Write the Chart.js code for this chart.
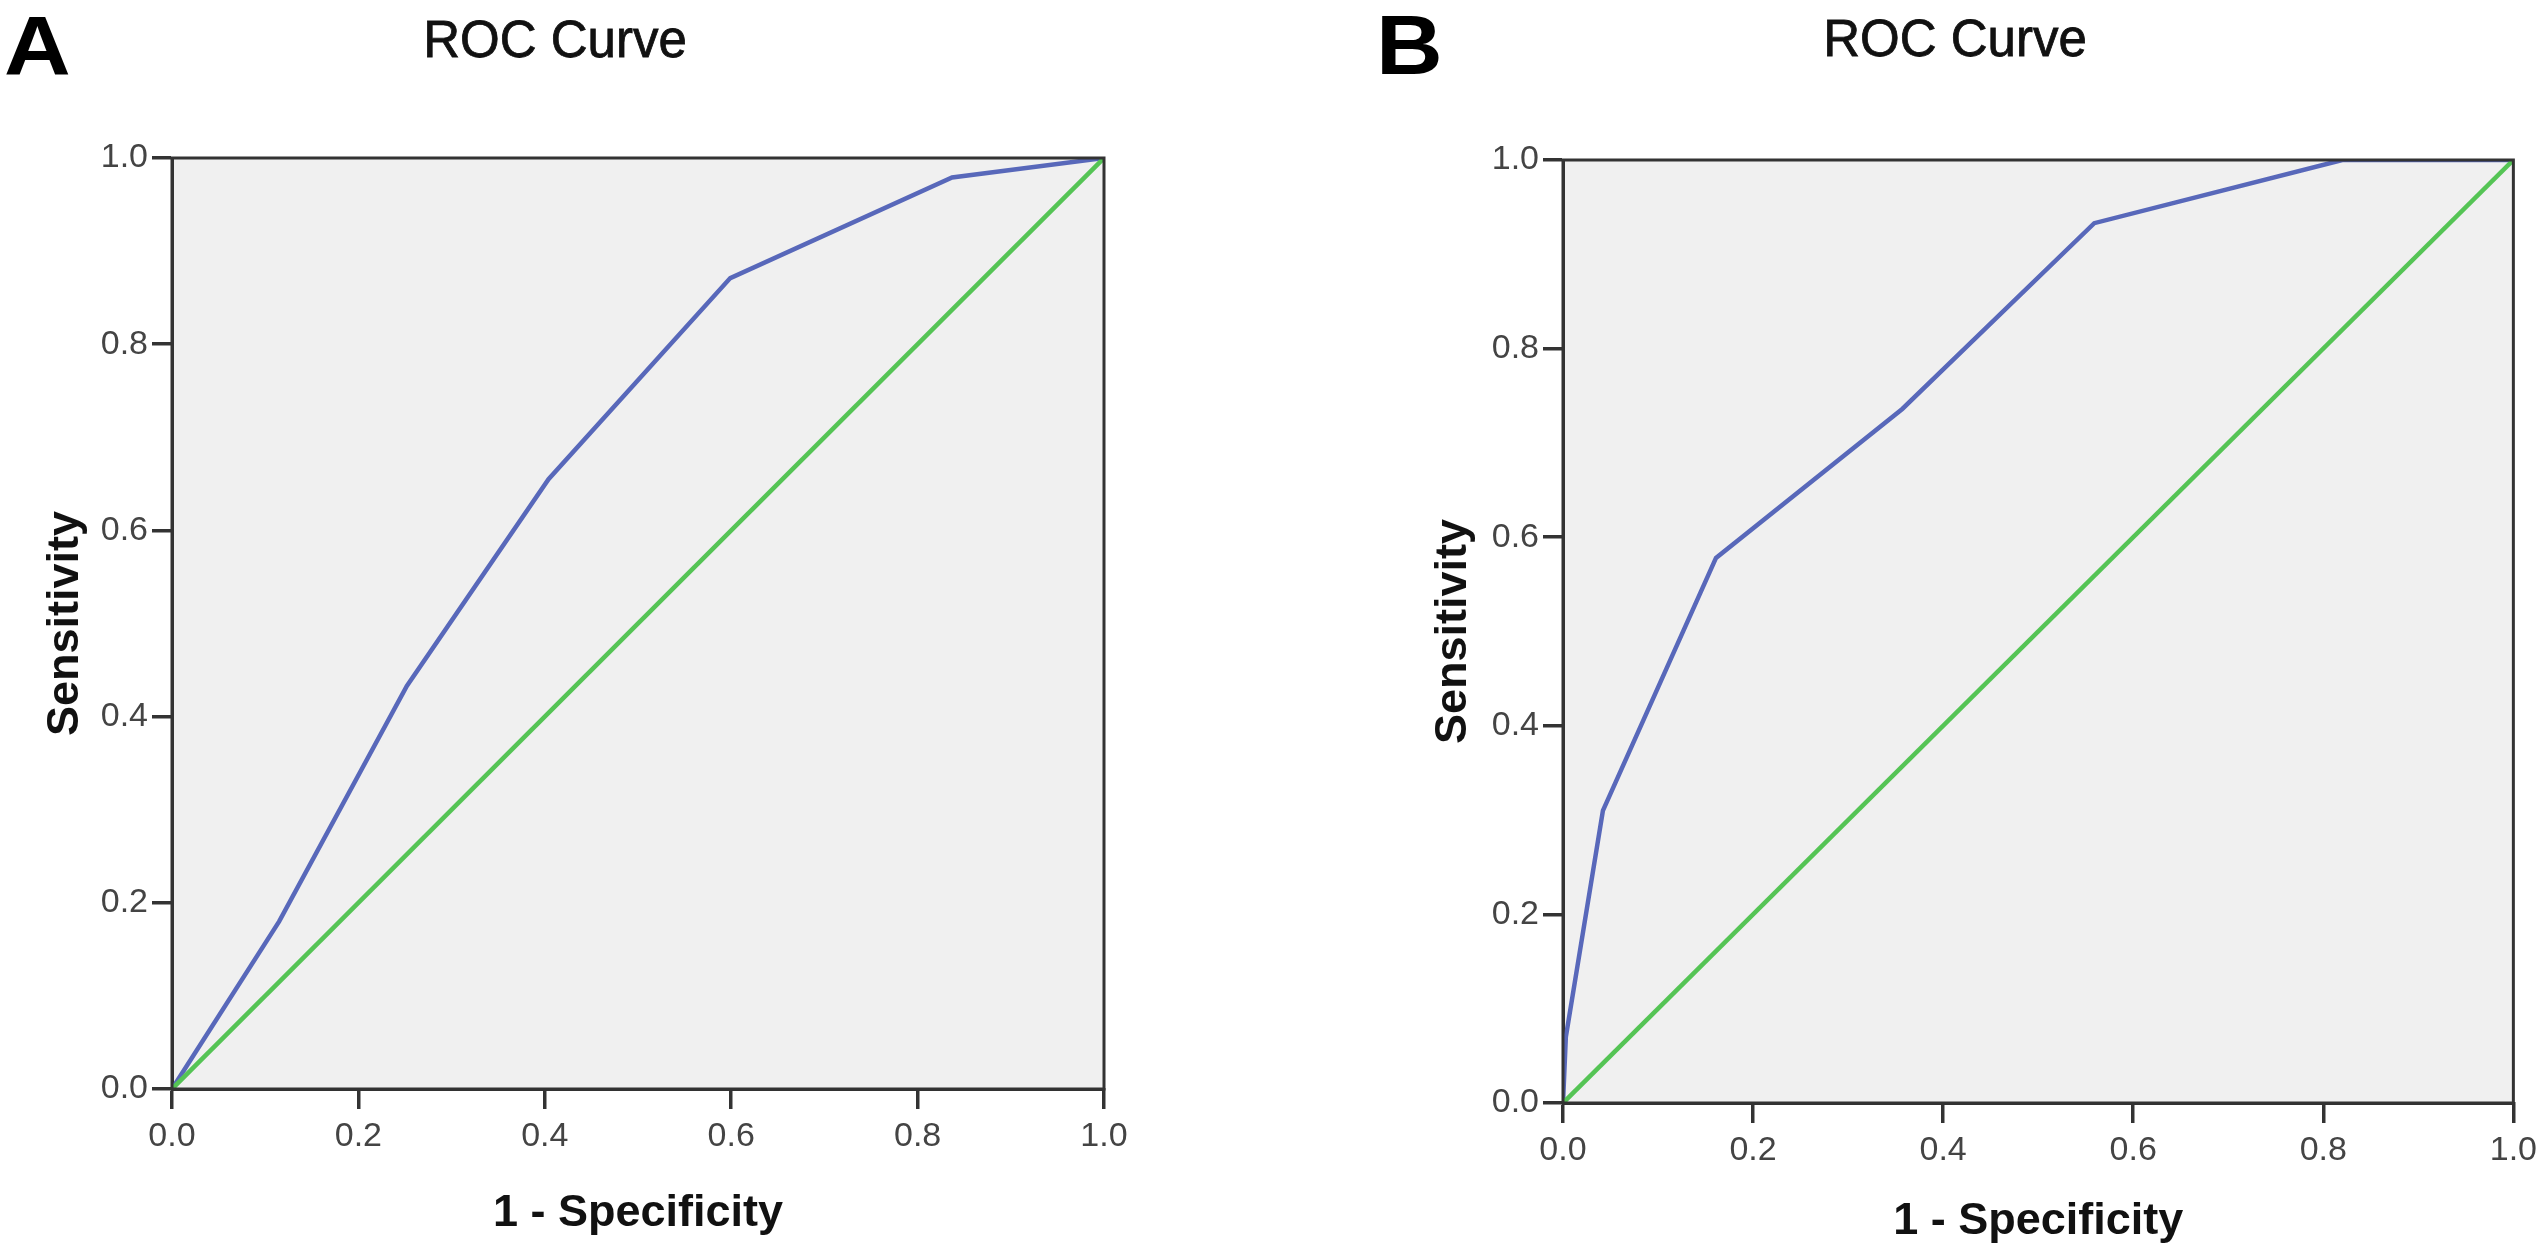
<!DOCTYPE html>
<html>
<head>
<meta charset="utf-8">
<title>ROC Curves</title>
<script src="https://cdn.jsdelivr.net/npm/chart.js@4.4.1/dist/chart.umd.min.js"></script>
<style>
    html, body { margin: 0; padding: 0; background: #ffffff; }
    #wrap { position: relative; width: 2548px; height: 1260px; overflow: hidden; }
    #wrap canvas { position: absolute; left: 0; top: 0; }
</style>
</head>
<body>
<div id="wrap">
    <canvas id="rocA" width="2548" height="1260"></canvas>
    <canvas id="rocB" width="2548" height="1260"></canvas>
</div>
<script>
// ROC curve points (1 - specificity, sensitivity)
const rocA_fpr = [0, 0.115, 0.252, 0.404, 0.599, 0.837, 1.0];
const rocA_tpr = [0, 0.180, 0.433, 0.655, 0.871, 0.979, 1.0];

const rocB_fpr = [0, 0.003, 0.042, 0.161, 0.357, 0.559, 0.820, 1.0];
const rocB_tpr = [0, 0.070, 0.310, 0.578, 0.736, 0.933, 1.000, 1.0];

// reference (chance) diagonal
const refLine = [0, 1];

const tickValues = [0, 0.2, 0.4, 0.6, 0.8, 1.0];
const chartTitle = 'ROC Curve';
const xTitle = '1 - Specificity';
const yTitle = 'Sensitivity';

const FONT = "'Liberation Sans', Arial, Helvetica, sans-serif";
const AXIS = '#333333';
const BLUE = '#5868BA';
const GREEN = '#55C455';

function toPoints(xs, ys) {
    return xs.map((x, i) => ({ x: x, y: ys[i] }));
}

// plot background + closed frame, plus panel letter and title
function panelPlugin(letter, letterX, letterY, titleX, titleY) {
    return {
        id: 'panel' + letter,
        beforeDraw(chart) {
            const a = chart.chartArea;
            const ctx = chart.ctx;
            ctx.save();
            ctx.fillStyle = '#F0F0F0';
            ctx.fillRect(a.left, a.top, a.right - a.left, a.bottom - a.top);
            ctx.restore();
        },
        afterDatasetsDraw(chart) {
            const a = chart.chartArea;
            const ctx = chart.ctx;
            ctx.save();
            ctx.strokeStyle = AXIS;
            ctx.lineWidth = 3;
            ctx.strokeRect(a.left, a.top, a.right - a.left, a.bottom - a.top);
            ctx.restore();
        },
        afterDraw(chart) {
            const ctx = chart.ctx;
            ctx.save();
            ctx.fillStyle = '#000000';
            ctx.textBaseline = 'alphabetic';
            ctx.textAlign = 'left';
            ctx.font = 'bold 84px ' + FONT;
            ctx.translate(letterX, letterY);
            ctx.scale(1.1, 1);
            ctx.fillText(letter, 0, 0);
            ctx.restore();

            ctx.save();
            ctx.fillStyle = '#111111';
            ctx.strokeStyle = '#111111';
            ctx.lineWidth = 0.8;
            ctx.textAlign = 'center';
            ctx.textBaseline = 'alphabetic';
            ctx.font = '51px ' + FONT;
            ctx.fillText(chartTitle, titleX, titleY);
            ctx.strokeText(chartTitle, titleX, titleY);
            ctx.restore();
        }
    };
}

function axisOptions(titleText, isX, titlePad) {
    return {
        type: 'linear',
        min: 0,
        max: 1,
        afterBuildTicks: function(scale) {
            scale.ticks = tickValues.map(v => ({ value: v }));
        },
        afterFit: function(scale) {
            if (isX) {
                scale.height = 150;
            } else {
                scale.width = 152;
            }
        },
        ticks: {
            autoSkip: false,
            maxRotation: 0,
            padding: isX ? 11 : 4,
            color: '#444444',
            font: { family: FONT, size: 34, lineHeight: 1 },
            callback: function(value) {
                return Number(value).toFixed(1);
            }
        },
        grid: {
            drawOnChartArea: false,
            drawTicks: true,
            tickLength: 20,
            color: AXIS,
            lineWidth: 3.5
        },
        border: {
            display: true,
            color: AXIS,
            width: 3
        },
        title: {
            display: true,
            text: titleText,
            color: '#111111',
            font: { family: FONT, size: 45, weight: 'bold', lineHeight: 1 },
            padding: titlePad
        }
    };
}

function makeRoc(canvasId, xs, ys, layoutPad, yPad, xPad, plugin) {
    const ctx = document.getElementById(canvasId);
    return new Chart(ctx, {
        type: 'line',
        data: {
            datasets: [
                {
                    label: 'Reference Line',
                    data: toPoints(refLine, refLine),
                    borderColor: GREEN,
                    borderWidth: 4.5,
                    pointRadius: 0,
                    tension: 0,
                    fill: false
                },
                {
                    label: 'ROC',
                    data: toPoints(xs, ys),
                    borderColor: BLUE,
                    borderWidth: 4.5,
                    pointRadius: 0,
                    tension: 0,
                    fill: false
                }
            ]
        },
        options: {
            responsive: false,
            animation: false,
            devicePixelRatio: 1,
            layout: { padding: layoutPad },
            plugins: {
                legend: { display: false },
                tooltip: { enabled: false },
                title: { display: false }
            },
            scales: {
                x: axisOptions(xTitle, true, xPad),
                y: axisOptions(yTitle, false, yPad)
            }
        },
        plugins: [plugin]
    });
}

// Panel A
makeRoc('rocA', rocA_fpr, rocA_tpr,
    { left: 20, top: 158, right: 1444, bottom: 21 },
    { top: 23.5, bottom: 0 },
    { top: 0, bottom: 3 },
    panelPlugin('A', 4, 75, 555, 57));

// Panel B
makeRoc('rocB', rocB_fpr, rocB_tpr,
    { left: 1411, top: 160, right: 31, bottom: 7 },
    { top: 20.5, bottom: 0 },
    { top: 0, bottom: 8.5 },
    panelPlugin('B', 1376, 74, 1955, 56));
</script>
</body>
</html>
